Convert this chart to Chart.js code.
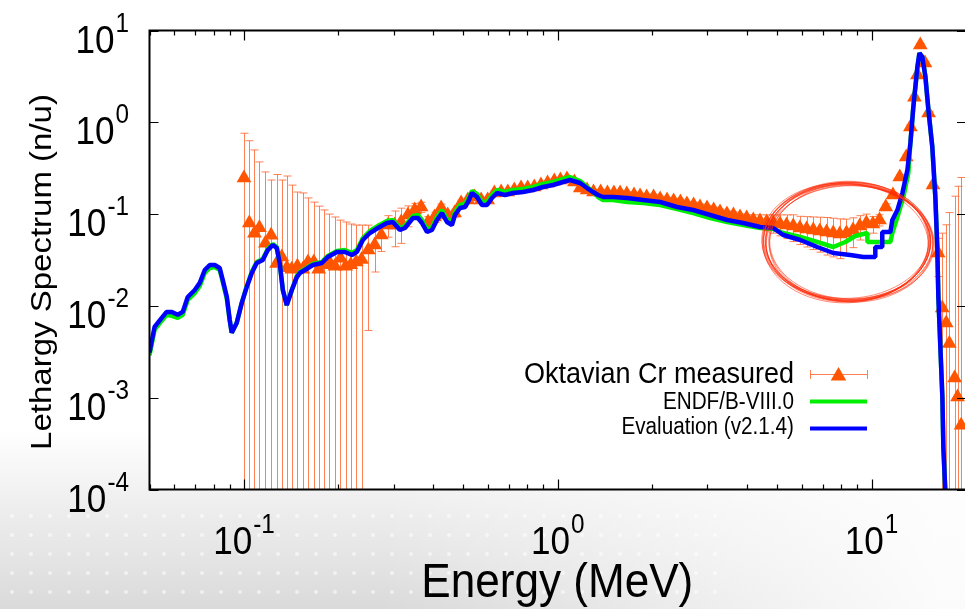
<!DOCTYPE html>
<html>
<head>
<meta charset="utf-8">
<title>Oktavian Cr lethargy spectrum</title>
<script src="https://cdn.jsdelivr.net/npm/chart.js@4.4.1/dist/chart.umd.min.js"></script>
<style>
  html, body { margin: 0; padding: 0; overflow: hidden; background: #fff; }
</style>
</head>
<body>
<canvas id="myChart" width="975" height="609"></canvas>
<script>
'use strict';

// evaluation v2.1.4 (blue histogram), energy in MeV, lethargy spectrum in n/u
const evalEnergy = [
  0.050, 0.0519, 0.0547, 0.0567, 0.0589, 0.0615, 0.0638, 0.0662, 0.0697, 0.0723,
  0.0750, 0.0778, 0.0807, 0.0837, 0.0856, 0.0882, 0.0901, 0.0914, 0.0948, 0.0984,
  0.1021, 0.1059, 0.1098, 0.1148, 0.1191, 0.1236, 0.1272, 0.1300, 0.1330, 0.1369,
  0.1421, 0.1474, 0.1507, 0.1563, 0.1658, 0.1771, 0.1850, 0.1977, 0.2097, 0.2208,
  0.2290, 0.2393, 0.2519, 0.2672, 0.2854, 0.2982, 0.3141, 0.3258, 0.3456, 0.3585,
  0.3692, 0.3830, 0.3972, 0.4121, 0.4275, 0.4435, 0.4601, 0.4704, 0.4880, 0.5063,
  0.5176, 0.5330, 0.5530, 0.5734, 0.5950, 0.6172, 0.6404, 0.6790, 0.7200, 0.7749,
  0.8341, 0.8976, 0.9660, 1.040, 1.094, 1.178, 1.240, 1.296, 1.344, 1.395,
  1.501, 1.664, 1.872, 2.120, 2.402, 2.702, 3.061, 3.467, 3.901, 4.419,
  4.862, 5.233, 5.929, 6.716, 7.553, 8.557, 9.415, 9.913, 10.28, 10.28,
  10.82, 10.82, 11.48, 11.65, 12.09, 12.54, 13.01, 13.30, 13.59, 14.00,
  14.21, 14.52, 14.85, 15.18, 15.62, 15.97, 16.20, 16.33, 16.57, 16.82,
  16.94, 17.20
];
const evalFlux = [
  0.0031, 0.0059, 0.0074, 0.0086, 0.0086, 0.0080, 0.0086, 0.0125, 0.0149, 0.0178,
  0.0246, 0.0279, 0.0279, 0.0259, 0.0191, 0.0125, 0.0070, 0.0051, 0.0065, 0.0108,
  0.0161, 0.0228, 0.0293, 0.0316, 0.0406, 0.0461, 0.0427, 0.0293, 0.0149, 0.0102,
  0.0149, 0.0206, 0.0228, 0.0246, 0.0279, 0.0293, 0.0341, 0.0387, 0.0387, 0.0358,
  0.0387, 0.0522, 0.0622, 0.0706, 0.0800, 0.0820, 0.0671, 0.0706, 0.0907, 0.0907,
  0.0800, 0.0638, 0.0671, 0.0863, 0.1028, 0.0820, 0.0761, 0.0978, 0.1165, 0.1195,
  0.1354, 0.1697, 0.1536, 0.1257, 0.1257, 0.1498, 0.1697, 0.1615, 0.1697, 0.1740,
  0.1830, 0.1973, 0.2075, 0.2237, 0.2352, 0.2182, 0.1924, 0.1740, 0.1615, 0.1536,
  0.1536, 0.1498, 0.1424, 0.1354, 0.1195, 0.1108, 0.0978, 0.0863, 0.0800, 0.0724,
  0.0706, 0.0592, 0.0522, 0.0438, 0.0377, 0.0358, 0.0341, 0.0341, 0.0341, 0.0438,
  0.0438, 0.0638, 0.0638, 0.0863, 0.1108, 0.1697, 0.302, 0.595, 1.47, 4.00,
  5.69, 5.14, 3.12, 1.36, 0.538, 0.1536, 0.0438, 0.0125, 0.00357, 0.0010,
  0.000285, 0.00009
];

// ENDF/B-VIII.0 (green histogram)
const endfEnergy = [
  0.050, 0.0519, 0.0547, 0.0567, 0.0589, 0.0615, 0.0638, 0.0662, 0.0697, 0.0723,
  0.0750, 0.0778, 0.0807, 0.0837, 0.0856, 0.0882, 0.0901, 0.0914, 0.0948, 0.0984,
  0.1021, 0.1059, 0.1098, 0.1148, 0.1191, 0.1236, 0.1272, 0.1300, 0.1330, 0.1369,
  0.1421, 0.1474, 0.1507, 0.1563, 0.1658, 0.1771, 0.1850, 0.1977, 0.2097, 0.2208,
  0.2290, 0.2393, 0.2519, 0.2672, 0.2854, 0.2982, 0.3141, 0.3258, 0.3456, 0.3585,
  0.3692, 0.3830, 0.3972, 0.4121, 0.4275, 0.4435, 0.4601, 0.4704, 0.4880, 0.5063,
  0.5176, 0.5330, 0.5530, 0.5734, 0.5950, 0.6172, 0.6404, 0.6790, 0.7200, 0.7749,
  0.8341, 0.8976, 0.9660, 1.040, 1.094, 1.178, 1.240, 1.296, 1.344, 1.395,
  1.501, 1.664, 1.872, 2.120, 2.402, 2.702, 3.061, 3.467, 3.901, 4.419,
  4.862, 5.233, 5.929, 6.716, 7.553,
  8.25, 8.88, 9.70, 9.70, 11.48, 11.65, 12.09, 12.63, 13.10, 13.30,
  13.59, 14.00, 14.21, 14.52, 14.85, 15.18, 15.62, 15.97, 16.20, 16.33,
  16.57, 16.82, 16.94, 17.20
];
const endfFlux = [
  0.0029, 0.0055, 0.0069, 0.0080, 0.0078, 0.0074, 0.0080, 0.0116, 0.0138, 0.0165,
  0.0228, 0.0259, 0.0265, 0.0246, 0.0182, 0.0119, 0.0069, 0.0051, 0.0065, 0.0108,
  0.0165, 0.0234, 0.0301, 0.0324, 0.0417, 0.0472, 0.0438, 0.0293, 0.0149, 0.0102,
  0.0149, 0.0212, 0.0234, 0.0252, 0.0286, 0.0301, 0.0350, 0.0396, 0.0406, 0.0377,
  0.0406, 0.0549, 0.0655, 0.0742, 0.0841, 0.0863, 0.0706, 0.0742, 0.0953, 0.0978,
  0.0863, 0.0688, 0.0724, 0.0930, 0.1108, 0.0884, 0.0820, 0.1054, 0.1257, 0.1288,
  0.1461, 0.1784, 0.1656, 0.1354, 0.1354, 0.1615, 0.1830, 0.1740, 0.1830, 0.1876,
  0.1973, 0.2128, 0.2237, 0.2412, 0.2535, 0.2294, 0.1973, 0.1740, 0.1536, 0.1424,
  0.1424, 0.1354, 0.1321, 0.1257, 0.1136, 0.1028, 0.0907, 0.0820, 0.0761, 0.0706,
  0.0688, 0.0622, 0.0563, 0.0497, 0.0438,
  0.0497, 0.0577, 0.0622, 0.0497, 0.0497, 0.0622, 0.0930, 0.1536, 0.2804, 0.595,
  1.47, 4.00, 5.69, 5.14, 3.12, 1.36, 0.538, 0.1536, 0.0438, 0.0125,
  0.00357, 0.0010, 0.000285, 0.00009
];

// Oktavian measurement: energy, spectrum and 1-sigma uncertainty
const measEnergy = [
  0.100, 0.104, 0.108, 0.112, 0.117, 0.122, 0.127, 0.132, 0.137, 0.142,
  0.148, 0.154, 0.160, 0.167, 0.173, 0.180, 0.187, 0.195, 0.203, 0.211,
  0.219, 0.228, 0.237, 0.249, 0.261, 0.274, 0.288, 0.302, 0.317, 0.333,
  0.350, 0.367, 0.386, 0.405, 0.425, 0.446, 0.469, 0.492, 0.517, 0.543,
  0.570, 0.598, 0.628, 0.660, 0.693, 0.727, 0.764, 0.802, 0.842, 0.884,
  0.928, 0.975, 1.02, 1.07, 1.13, 1.18, 1.24, 1.30, 1.37, 1.44,
  1.51, 1.58, 1.66, 1.75, 1.83, 1.92, 2.02, 2.12, 2.23, 2.34,
  2.46, 2.58, 2.71, 2.84, 2.99, 3.14, 3.29, 3.46, 3.63, 3.81,
  4.00, 4.20, 4.41, 4.63, 4.86, 5.11, 5.36, 5.63, 5.91, 6.21,
  6.52, 6.84, 7.19, 7.55, 7.92, 8.32, 8.73, 9.17, 9.63, 10.1,
  10.6, 11.1, 11.7, 12.3, 12.9, 13.3, 13.7, 14.0, 14.3, 14.8,
  15.2, 15.7, 16.3, 16.8, 17.3, 17.7, 18.4, 18.8, 19.3
];
const measFlux = [
  0.247, 0.080, 0.062, 0.071, 0.048, 0.059, 0.029, 0.034, 0.026, 0.025,
  0.027, 0.025, 0.030, 0.030, 0.025, 0.028, 0.030, 0.027, 0.033, 0.027,
  0.028, 0.030, 0.032, 0.0406, 0.0461, 0.0592, 0.0761, 0.0761, 0.0820, 0.0978,
  0.1108, 0.1195, 0.0820, 0.0930, 0.1165, 0.0978, 0.1028, 0.1321, 0.1424, 0.1536,
  0.1424, 0.1424, 0.1697, 0.174, 0.174, 0.183, 0.1924, 0.1924, 0.1973, 0.2075,
  0.2182, 0.2294, 0.2352, 0.2412, 0.2237, 0.1924, 0.183, 0.174, 0.174, 0.1697,
  0.1697, 0.1697, 0.1656, 0.1615, 0.1575, 0.1536, 0.1536, 0.1461, 0.1424, 0.1389,
  0.1354, 0.1288, 0.1257, 0.1195, 0.1165, 0.1108, 0.1054, 0.1003, 0.0978, 0.0930,
  0.0907, 0.0863, 0.0841, 0.0820, 0.0800, 0.0780, 0.0761, 0.0742, 0.0706, 0.0688,
  0.0671, 0.0655, 0.0638, 0.0622, 0.0607, 0.0622, 0.0671, 0.0742, 0.0800, 0.0780,
  0.0863, 0.1195, 0.1615, 0.2535, 0.419, 0.89, 1.88, 3.27, 6.95, 4.43,
  1.26, 0.2075, 0.0377, 0.0095, 0.0065, 0.0039, 0.00164, 0.00102, 0.0005
];
const measErr = [
  0.513, 0.55, 0.438, 0.299, 0.24, 0.176, 0.241, 0.201, 0.234, 0.182,
  0.147, 0.145, 0.120, 0.105, 0.097, 0.083, 0.070, 0.066, 0.053, 0.055,
  0.050, 0.046, 0.044, 0.0352, 0.0227, 0.020, 0.020, 0.032, 0.034, 0.025,
  0.020, 0.015, 0.012, 0.012, 0.012, 0.010, 0.010, 0.010, 0.010, 0.011,
  0.010, 0.010, 0.012, 0.012, 0.012, 0.012, 0.013, 0.013, 0.013, 0.014,
  0.014, 0.015, 0.016, 0.016, 0.015, 0.013, 0.012, 0.012, 0.012, 0.011,
  0.011, 0.011, 0.011, 0.011, 0.011, 0.011, 0.011, 0.010, 0.010, 0.010,
  0.010, 0.009, 0.009, 0.009, 0.008, 0.008, 0.008, 0.008, 0.008, 0.007,
  0.007, 0.012, 0.014, 0.016, 0.018, 0.020, 0.022, 0.024, 0.024, 0.025,
  0.026, 0.027, 0.028, 0.028, 0.028, 0.026, 0.024, 0.022, 0.020, 0.016,
  0.012, 0.010, 0.012, 0.016, 0.024, 0.05, 0.09, 0.16, 0.3, 0.2,
  0.06, 0.012, 0.0168, 0.0525, 0.07, 0.10, 0.155, 0.20, 0.25
];

// axis ranges and labelled decades
const xRange = [0.05, 20];
const yRange = [1e-4, 10];
const xDecades = [0.1, 1, 10];
const yDecades = [10, 1, 0.1, 0.01, 0.001, 0.0001];

// hand-drawn ring round the 5-15 MeV dip (energy span, spectrum span)
const ringEnergy = [4.6, 15.4];
const ringFlux = [0.0115, 0.214];

const FONT = '"Liberation Sans", Arial, Helvetica, sans-serif';
const SQUASH = 0.9;
const ORANGE = '#ff5500';
const GREEN = '#00ee00';
const BLUE = '#0000ff';

function pairs(xs, ys) {
  let out = [];
  for (let i = 0; i < Math.min(xs.length, ys.length); i++) {
    out.push({x: xs[i], y: ys[i]});
  }
  return out;
}

function squashText(ctx, text, x, y, align) {
  ctx.save();
  ctx.translate(x, y);
  ctx.scale(SQUASH, 1);
  ctx.textAlign = align;
  ctx.fillText(text, 0, 0);
  ctx.restore();
}

// "10" with a raised exponent; anchor is 'right' or 'center'
function powerLabel(ctx, exp, x, y, anchor) {
  ctx.font = '39px ' + FONT;
  let baseW = ctx.measureText('10').width * SQUASH;
  ctx.font = '27px ' + FONT;
  let expW = ctx.measureText(exp).width * SQUASH;
  let left = anchor === 'right' ? x - baseW - expW - 1 : x - (baseW + expW + 1) / 2;
  ctx.font = '39px ' + FONT;
  squashText(ctx, '10', left, y, 'left');
  ctx.font = '27px ' + FONT;
  squashText(ctx, exp, left + baseW + 1, y - 21, 'left');
}

// slide backdrop: grey fade with dots along the bottom
const backdrop = {
  id: 'backdrop',
  beforeDraw(chart) {
    let ctx = chart.ctx;
    let w = chart.width, h = chart.height;
    let area = chart.chartArea;
    ctx.save();
    ctx.fillStyle = '#fff';
    ctx.fillRect(0, 0, w, h);
    let g = ctx.createLinearGradient(0, 430, 0, h);
    g.addColorStop(0, 'rgba(215,215,215,0)');
    g.addColorStop(0.45, 'rgba(215,215,215,0.45)');
    g.addColorStop(1, 'rgba(205,205,205,0.75)');
    ctx.fillStyle = g;
    ctx.fillRect(0, 430, w, h - 430);
    let fade = ctx.createLinearGradient(380, 0, 940, 0);
    fade.addColorStop(0, 'rgba(255,255,255,0)');
    fade.addColorStop(1, 'rgba(255,255,255,0.9)');
    ctx.fillStyle = fade;
    ctx.fillRect(0, 430, w, h - 430);
    ctx.fillStyle = 'rgba(255,255,255,0.55)';
    for (let yy = 516; yy < h; yy += 19) {
      for (let xx = 12; xx < 720; xx += 19) {
        ctx.beginPath();
        ctx.arc(xx, yy, 2, 0, Math.PI * 2);
        ctx.fill();
      }
    }
    ctx.fillStyle = '#fff';
    ctx.fillRect(area.left, area.top, area.right - area.left, area.bottom - area.top);
    ctx.restore();
  }
};

// vertical error bars with caps for the measured set
const errorBars = {
  id: 'errorBars',
  beforeDatasetsDraw(chart) {
    let ctx = chart.ctx;
    let xs = chart.scales.x, ys = chart.scales.y;
    let area = chart.chartArea;
    ctx.save();
    ctx.beginPath();
    ctx.rect(area.left, area.top, area.right - area.left, area.bottom - area.top);
    ctx.clip();
    ctx.strokeStyle = 'rgba(255,96,40,0.8)';
    ctx.lineWidth = 1;
    for (let i = 0; i < measEnergy.length; i++) {
      let px = Math.round(xs.getPixelForValue(measEnergy[i])) + 0.5;
      let hi = measFlux[i] + measErr[i];
      let lo = measFlux[i] - measErr[i];
      let yHi = ys.getPixelForValue(hi);
      let yLo = lo > 0 ? ys.getPixelForValue(lo) : area.bottom + 10;
      ctx.beginPath();
      ctx.moveTo(px, yHi);
      ctx.lineTo(px, yLo);
      ctx.moveTo(px - 4, yHi);
      ctx.lineTo(px + 4, yHi);
      ctx.moveTo(px - 4, yLo);
      ctx.lineTo(px + 4, yLo);
      ctx.stroke();
    }
    ctx.restore();
  }
};

// frame, inward ticks, labels, ring and key
const decorations = {
  id: 'decorations',
  afterDraw(chart) {
    let ctx = chart.ctx;
    let xs = chart.scales.x, ys = chart.scales.y;
    let a = chart.chartArea;
    ctx.save();

    // border
    ctx.strokeStyle = '#000';
    ctx.lineWidth = 2;
    ctx.strokeRect(a.left, a.top, a.right - a.left, a.bottom - a.top);

    // x ticks, major and minor, on bottom and top
    ctx.lineWidth = 1.2;
    ctx.beginPath();
    for (let d = 0.01; d < 100; d *= 10) {
      for (let m = 1; m < 10; m++) {
        let v = m * d;
        if (v < xRange[0] || v > xRange[1]) continue;
        let px = Math.round(xs.getPixelForValue(v)) + 0.5;
        let len = m === 1 ? 10 : 5;
        ctx.moveTo(px, a.bottom);
        ctx.lineTo(px, a.bottom - len);
        ctx.moveTo(px, a.top);
        ctx.lineTo(px, a.top + len);
      }
    }
    // y ticks at each decade, left and right
    yDecades.forEach(v => {
      let py = Math.round(ys.getPixelForValue(v)) + 0.5;
      ctx.moveTo(a.left, py);
      ctx.lineTo(a.left + 9, py);
      ctx.moveTo(a.right, py);
      ctx.lineTo(a.right - 9, py);
    });
    ctx.stroke();

    // tick labels
    ctx.fillStyle = '#000';
    ctx.textBaseline = 'alphabetic';
    yDecades.forEach(v => {
      let py = ys.getPixelForValue(v);
      powerLabel(ctx, String(Math.round(Math.log10(v))), 129, py + 22, 'right');
    });
    xDecades.forEach(v => {
      let px = xs.getPixelForValue(v);
      powerLabel(ctx, String(Math.round(Math.log10(v))), px, 554, 'center');
    });

    // axis titles
    ctx.font = '49px ' + FONT;
    squashText(ctx, 'Energy (MeV)', (a.left + 965) / 2, 597, 'center');
    ctx.save();
    ctx.translate(51, 272);
    ctx.scale(SQUASH, 1);
    ctx.rotate(-Math.PI / 2);
    ctx.font = '33px ' + FONT;
    ctx.textAlign = 'center';
    ctx.fillText('Lethargy Spectrum (n/u)', 0, 0);
    ctx.restore();

    // hand-drawn ring, several loose passes of a pen
    let x0 = xs.getPixelForValue(ringEnergy[0]);
    let x1 = xs.getPixelForValue(ringEnergy[1]);
    let y0 = ys.getPixelForValue(ringFlux[1]);
    let y1 = ys.getPixelForValue(ringFlux[0]);
    let cx = (x0 + x1) / 2, cy = (y0 + y1) / 2;
    let rx = (x1 - x0) / 2, ry = (y1 - y0) / 2;
    let strokes = [
      [0, 0, 0, 0], [1.5, -1, 0.02, 1], [-1, 1.5, -0.02, -1], [2.5, 1, 0.035, 0],
      [-2, -1.5, 0.01, 2], [0.5, 2.5, -0.03, -2], [3, 0, 0.05, 1], [-0.5, -2, -0.045, 0],
      [1, 0.5, 0.06, -3], [-1.5, 1, -0.055, 2], [2, -0.5, 0.0, -1.5], [0, 1.8, 0.04, 3]
    ];
    ctx.strokeStyle = 'rgba(255,40,5,0.55)';
    ctx.lineWidth = 1;
    strokes.forEach(s => {
      ctx.beginPath();
      ctx.ellipse(cx + s[3], cy, rx + s[0], ry + s[1], s[2], 0, Math.PI * 2);
      ctx.stroke();
    });

    // key
    let sets = chart.data.datasets;
    let keyRight = 794, lx0 = 810, lx1 = 867;
    ctx.fillStyle = '#000';
    ctx.textBaseline = 'middle';
    ctx.font = '30px ' + FONT;
    squashText(ctx, sets[0].label, keyRight, 375, 'right');
    ctx.font = '23px ' + FONT;
    squashText(ctx, sets[1].label, keyRight, 403, 'right');
    squashText(ctx, sets[2].label, keyRight, 428, 'right');

    ctx.strokeStyle = 'rgba(255,96,40,0.8)';
    ctx.lineWidth = 1;
    ctx.beginPath();
    ctx.moveTo(lx0, 374.5); ctx.lineTo(lx1, 374.5);
    ctx.moveTo(lx0 + 0.5, 370); ctx.lineTo(lx0 + 0.5, 379);
    ctx.moveTo(lx1 + 0.5, 370); ctx.lineTo(lx1 + 0.5, 379);
    ctx.stroke();
    ctx.fillStyle = ORANGE;
    Chart.helpers.drawPoint(ctx, {pointStyle: 'triangle', radius: 9, rotation: 0, borderWidth: 0}, (lx0 + lx1) / 2, 376);

    ctx.lineWidth = 4;
    ctx.strokeStyle = GREEN;
    ctx.beginPath(); ctx.moveTo(lx0, 401.5); ctx.lineTo(lx1, 401.5); ctx.stroke();
    ctx.strokeStyle = BLUE;
    ctx.beginPath(); ctx.moveTo(lx0, 428.5); ctx.lineTo(lx1, 428.5); ctx.stroke();

    ctx.restore();
  }
};

let ctx = document.getElementById('myChart').getContext('2d');
let myChart = new Chart(ctx, { //eslint-disable-line
  type: 'scatter',
  data: {
    datasets: [{
      label: 'Oktavian Cr measured',
      data: pairs(measEnergy, measFlux),
      showLine: false,
      pointStyle: 'triangle',
      pointRadius: 8.5,
      pointHoverRadius: 8.5,
      pointBorderWidth: 0,
      backgroundColor: ORANGE,
      borderColor: ORANGE,
      order: 3,
      clip: 0
    }, {
      label: 'ENDF/B-VIII.0',
      data: pairs(endfEnergy, endfFlux),
      showLine: true,
      pointRadius: 0,
      borderColor: GREEN,
      borderWidth: 4.5,
      borderJoinStyle: 'bevel',
      order: 2,
      clip: 0
    }, {
      label: 'Evaluation (v2.1.4)',
      data: pairs(evalEnergy, evalFlux),
      showLine: true,
      pointRadius: 0,
      borderColor: BLUE,
      borderWidth: 4.5,
      borderJoinStyle: 'bevel',
      order: 1,
      clip: 0
    }]
  },
  options: {
    responsive: false,
    animation: false,
    devicePixelRatio: 1,
    layout: {
      padding: {left: 149.5, right: 9, top: 30.5, bottom: 119.5}
    },
    scales: {
      x: {type: 'logarithmic', min: xRange[0], max: xRange[1], display: false},
      y: {type: 'logarithmic', min: yRange[0], max: yRange[1], display: false}
    },
    plugins: {
      legend: {display: false},
      tooltip: {enabled: false}
    }
  },
  plugins: [backdrop, errorBars, decorations]
});
</script>
</body>
</html>
